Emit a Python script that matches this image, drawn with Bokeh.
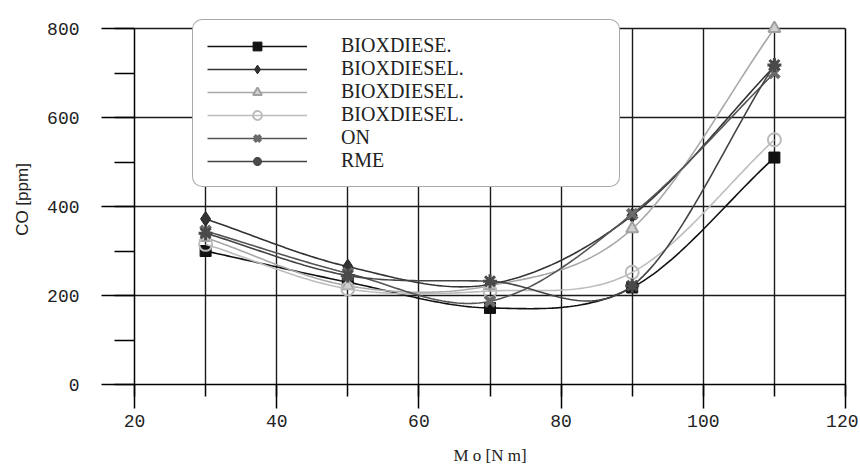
import numpy as np
from bokeh.plotting import figure
from bokeh.models import Legend, LegendItem, FixedTicker, Range1d, ColumnDataSource, LinearAxis
from bokeh.embed import file_html
from bokeh.resources import INLINE

# ---- data ----
torque = [30, 50, 70, 90, 110]
series_names = ["BIOXDIESE.", "BIOXDIESEL.", "BIOXDIESEL.", "BIOXDIESEL.", "ON", "RME"]
bioxdiesel_1 = [300, 230, 172, 218, 510]
bioxdiesel_2 = [372, 265, 225, 380, 715]
bioxdiesel_3 = [330, 222, 222, 350, 800]
bioxdiesel_4 = [315, 215, 210, 252, 550]
on_fuel = [345, 250, 187, 383, 700]
rme = [340, 245, 232, 222, 718]
x_ticks = [20, 40, 60, 80, 100, 120]
x_minor = [20, 30, 40, 50, 60, 70, 80, 90, 100, 110, 120]
y_ticks = [0, 200, 400, 600, 800]
y_minor = [0, 100, 200, 300, 400, 500, 600, 700, 800]
Y_MAX = 800


def smooth(xs, ys, n=40):
    """Catmull-Rom style smoothed line through the measured points."""
    xs = np.asarray(xs, float)
    ys = np.asarray(ys, float)
    tx = np.gradient(xs)
    ty = np.gradient(ys)
    t = np.linspace(0, 1, n)
    h00 = 2 * t**3 - 3 * t**2 + 1
    h10 = t**3 - 2 * t**2 + t
    h01 = -2 * t**3 + 3 * t**2
    h11 = t**3 - t**2
    ox, oy = [], []
    for i in range(len(xs) - 1):
        ox.extend(h00 * xs[i] + h10 * tx[i] + h01 * xs[i + 1] + h11 * tx[i + 1])
        oy.extend(h00 * ys[i] + h10 * ty[i] + h01 * ys[i + 1] + h11 * ty[i + 1])
    return ox, oy


# layout: frame spans the data box plus a 14px strip above 800 for the legend
FRAME_H = 370
EXTRA_TOP = 14
y_end = Y_MAX * FRAME_H / (FRAME_H - EXTRA_TOP)

p = figure(width=858, height=468,
           x_range=Range1d(20, 120), y_range=Range1d(0, y_end),
           output_backend="svg", toolbar_location=None,
           min_border_left=134, min_border_right=13,
           min_border_top=14, min_border_bottom=84)

p.outline_line_color = None
p.background_fill_color = "white"
p.border_fill_color = "white"

# grids
p.xgrid.ticker = FixedTicker(ticks=x_minor)
p.ygrid.ticker = FixedTicker(ticks=y_ticks)
for g in (p.xgrid, p.ygrid):
    g.grid_line_color = "#1a1a1a"
    g.grid_line_width = 1.4
    g.grid_line_alpha = 1.0
try:
    p.xgrid.cross_bounds = (0, Y_MAX)
except Exception:
    pass

# axes
xax = p.xaxis[0]
yax = p.yaxis[0]
xax.ticker = FixedTicker(ticks=x_ticks, minor_ticks=x_minor)
yax.ticker = FixedTicker(ticks=y_ticks, minor_ticks=y_minor)
for ax in (xax, yax):
    ax.axis_line_color = "black"
    ax.axis_line_width = 1.5
    ax.major_tick_line_color = "black"
    ax.major_tick_line_width = 1.5
    ax.minor_tick_line_color = "black"
    ax.minor_tick_line_width = 1.5
    ax.major_tick_in = 0
    ax.minor_tick_in = 0
    ax.major_label_text_font = "Liberation Mono"
    ax.major_label_text_font_size = "18px"
    ax.major_label_text_color = "#222222"
    ax.axis_label_text_font_style = "normal"
    ax.axis_label_text_color = "#222222"

yax.bounds = (0, Y_MAX)
yax.major_tick_out = 33
yax.minor_tick_out = 20
yax.major_label_standoff = 22
yax.axis_label = "CO [ppm]"
yax.axis_label_text_font = "Liberation Sans"
yax.axis_label_text_font_size = "17px"
yax.axis_label_standoff = 12

xax.major_tick_out = 24
xax.minor_tick_out = 12
xax.major_label_standoff = 6
xax.axis_label = "M o [N m]"
xax.axis_label_text_font = "Liberation Serif"
xax.axis_label_text_font_size = "17px"
xax.axis_label_standoff = 16

# right frame edge (plain line, no ticks or labels)
right_ax = LinearAxis(ticker=FixedTicker(ticks=[], minor_ticks=[]), bounds=(0, Y_MAX),
                      axis_line_color="black", axis_line_width=1.5,
                      major_tick_line_color=None, minor_tick_line_color=None,
                      major_tick_out=0, minor_tick_out=0)
p.add_layout(right_ax, "right")

all_series = [bioxdiesel_1, bioxdiesel_2, bioxdiesel_3, bioxdiesel_4, on_fuel, rme]
line_colors = ["#111111", "#333333", "#a8a8a8", "#bdbdbd", "#555555", "#444444"]
marker_styles = [
    dict(marker="square", size=11, fill_color="#111111", line_color="#111111", line_width=1),
    dict(marker="diamond", size=15, fill_color="#333333", line_color="#222222", line_width=1),
    dict(marker="triangle", size=12, fill_color="#d0d0d0", line_color="#a0a0a0", line_width=2),
    dict(marker="circle", size=13, fill_color=None, line_color="#bbbbbb", line_width=2),
    dict(marker="x", size=14, fill_color=None, line_color="#6a6a6a", line_width=4),
    dict(marker="asterisk", size=14, fill_color=None, line_color="#4a4a4a", line_width=3),
]

items = []
for name, vals, lc, ms in zip(series_names, all_series, line_colors, marker_styles):
    sx, sy = smooth(torque, vals)
    lr = p.line(sx, sy, line_color=lc, line_width=1.6)
    src = ColumnDataSource(dict(x=torque, y=vals))
    sr = p.scatter("x", "y", source=src, **ms)
    items.append(LegendItem(label=name, renderers=[lr, sr]))

legend = Legend(items=items, location=(58, 197), margin=0, padding=14,
                glyph_width=100, glyph_height=22, label_height=22, label_width=264,
                spacing=0, label_standoff=34,
                border_line_color="#555555", border_line_width=1.5,
                background_fill_color="white", background_fill_alpha=1.0,
                label_text_font="Liberation Serif", label_text_font_size="20px",
                label_text_color="#222222")
try:
    legend.border_radius = 10
except Exception:
    pass
p.add_layout(legend)

open("out.html", "w").write(file_html(p, INLINE))
